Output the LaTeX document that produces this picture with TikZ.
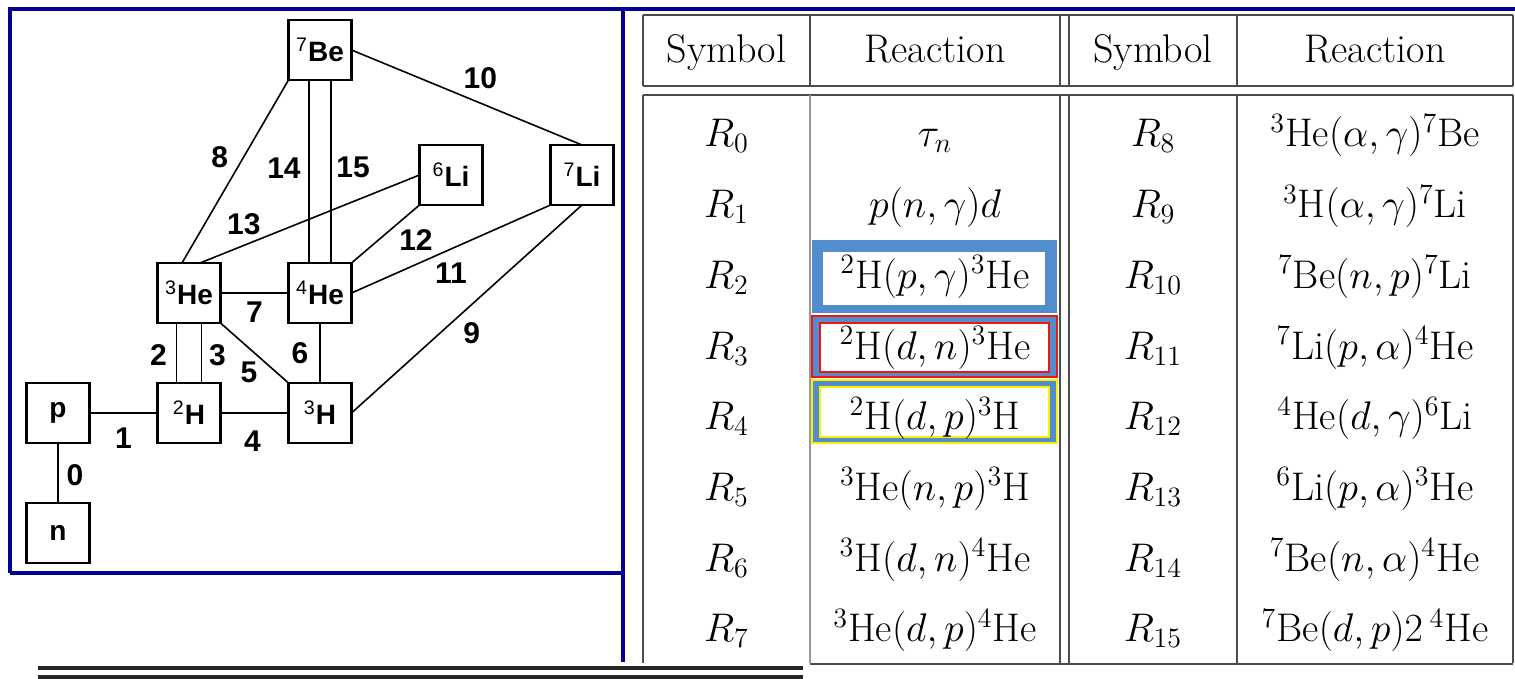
\RequirePackage{fix-cm}
\documentclass[tikz,border=0pt]{standalone}
\usepackage{fontspec}
\newfontfamily\netfont{Liberation Sans}
\usetikzlibrary{positioning}

\definecolor{framenavy}{RGB}{0,0,145}
\definecolor{hlblue}{RGB}{82,142,206}
\definecolor{hlred}{RGB}{240,20,20}
\definecolor{hlyellow}{RGB}{250,240,0}

\begin{document}
\begin{tikzpicture}[x=0.5pt, y=-0.5pt,
    nuc/.style={draw, line width=1.1pt, outer sep=0pt, minimum width=31.5pt, minimum height=30pt, inner sep=0pt, font=\netfont\bfseries\fontsize{14}{16}\selectfont},
    link/.style={line width=0.8pt},
    num/.style={inner sep=1pt, font=\netfont\bfseries\fontsize{15}{17}\selectfont},
    rule/.style={line width=0.9pt, black!70},
    cell/.style={anchor=base, inner sep=0pt, font=\fontsize{20}{24}\selectfont},
    node distance=30pt and 34pt
]
    \useasboundingbox (0,0) rectangle (1515,679);

    % Frames
    \draw[framenavy, line width=2.2pt] (10,573) -- (10,9) -- (1515,9);
    \draw[framenavy, line width=2.2pt] (10,573) -- (623,573);
    \draw[framenavy, line width=2.2pt] (623,9) -- (623,662);
    \draw[black!85, line width=1.6pt] (38,668) -- (803,668) (38,677) -- (803,677);

    % Network
    \node[nuc] (p) at (58,413) {p};
    \node[nuc, below=of p] (n) {n};
    \node[nuc, right=of p] (h2) {\textsuperscript{\mdseries 2}H};
    \node[nuc, right=of h2] (h3) {\textsuperscript{\mdseries 3}H};
    \node[nuc, above=of h2] (he3) {\textsuperscript{\mdseries 3}He};
    \node[nuc, above=of h3] (he4) {\textsuperscript{\mdseries 4}He};
    \node[nuc, above right=29pt and 34pt of he4] (li6) {\textsuperscript{\mdseries 6}Li};
    \node[nuc, right=of li6] (li7) {\textsuperscript{\mdseries 7}Li};
    \node[nuc, above=91.5pt of he4] (be7) {\textsuperscript{\mdseries 7}Be};

    \draw[link] (p) -- node[num, xshift=8.5pt, yshift=-1pt] (l0) {0} (n);
    \draw[link] (p) -- node[num, yshift=-12.5pt] (l1) {1} (h2);
    \draw[link] ([xshift=-6.25pt]he3.south) -- node[num, xshift=-9pt, yshift=-1pt] (l2) {2} ([xshift=-6.25pt]h2.north);
    \draw[link] ([xshift=6.25pt]he3.south) -- node[num, xshift=8pt, yshift=-1pt] (l3) {3} ([xshift=6.25pt]h2.north);
    \draw[link] (h2) -- node[num, xshift=-1pt, yshift=-14pt] (l4) {4} (h3);
    \draw[link] (he3.south east) -- node[num, xshift=-2.75pt, yshift=-9.5pt] (l5) {5} (h3.north west);
    \draw[link] (he4) -- node[num, xshift=-10pt] (l6) {6} (h3);
    \draw[link] (he3) -- node[num, yshift=-9.5pt] (l7) {7} (he4);
    \draw[link] ([xshift=-3.5pt]he3.north) -- node[num, xshift=-7.75pt, yshift=7.25pt] (l8) {8} (be7.south west);
    \draw[link] (h3.east) -- node[num, xshift=2.5pt, yshift=-12pt] (l9) {9} (li7.south);
    \draw[link] (be7.east) -- node[num, xshift=6.75pt, yshift=9.75pt] (l10) {10} (li7.north);
    \draw[link] (he4.east) -- node[num, yshift=-12pt] (l11) {11} (li7.south west);
    \draw[link] (he4.north east) -- node[num, xshift=15.25pt, yshift=-3pt] (l12) {12} (li6.south west);
    \draw[link] ([xshift=5.5pt]he3.north) -- node[num, pos=.2, xshift=0pt, yshift=10.5pt] (l13) {13} (li6.west);
    \draw[link] ([xshift=-5.5pt]be7.south) -- node[num, xshift=-12.5pt, yshift=1.75pt] (l14) {14} ([xshift=-5.5pt]he4.north);
    \draw[link] ([xshift=5.5pt]be7.south) -- node[num, xshift=11pt, yshift=2.25pt] (l15) {15} ([xshift=5.5pt]he4.north);

    % Highlighted reactions
    \fill[hlblue] (812,240) rectangle (1057,313);
    \fill[white] (823,252) rectangle (1045,305);
    \filldraw[fill=hlblue, draw=hlred, line width=1.2pt] (812,316) rectangle (1057,377);
    \filldraw[fill=white, draw=hlred, line width=1.2pt] (820,323) rectangle (1049,372);
    \filldraw[fill=hlblue, draw=hlyellow, line width=1.2pt] (812,380) rectangle (1057,443);
    \filldraw[fill=white, draw=hlyellow, line width=1.2pt] (820,387) rectangle (1049,437);

    % Table rules
    \draw[rule] (643,15) -- (1513,15) (643,86) -- (1513,86) (643,95) -- (1513,95) (810,664) -- (1513,664);
    \draw[rule] (643,15) -- (643,86) (643,95) -- (643,663);
    \draw[rule] (810,15) -- (810,86);
    \draw[rule, black!40] (810,95) -- (810,663);
    \draw[rule] (1060,15) -- (1060,86) (1060,95) -- (1060,663);
    \draw[rule] (1069,15) -- (1069,86) (1069,95) -- (1069,663);
    \draw[rule] (1237,15) -- (1237,86) (1237,95) -- (1237,663);
    \draw[rule] (1513,15) -- (1513,86) (1513,95) -- (1513,663);

    % Header
    \node[cell] (hs1) at (726.5,63) {Symbol};
    \node[cell] (hr1) at (935,63) {Reaction};
    \node[cell] (hs2) at (1153,63) {Symbol};
    \node[cell] (hr2) at (1375,63) {Reaction};

    % Left half
    \node[cell] (s0) at (726.5,147) {$R_0$};
    \node[cell] (r0) at (935,147) {$\tau_n$};
    \node[cell] (s1) at (726.5,217.7) {$R_1$};
    \node[cell] (r1) at (935,217.7) {$p(n,\gamma)d$};
    \node[cell] (s2) at (726.5,288.4) {$R_2$};
    \node[cell] (r2) at (935,288.4) {${}^2\mathrm{H}(p,\gamma){}^3\mathrm{He}$};
    \node[cell] (s3) at (726.5,359.1) {$R_3$};
    \node[cell] (r3) at (935,359.1) {${}^2\mathrm{H}(d,n){}^3\mathrm{He}$};
    \node[cell] (s4) at (726.5,429.8) {$R_4$};
    \node[cell] (r4) at (935,429.8) {${}^2\mathrm{H}(d,p){}^3\mathrm{H}$};
    \node[cell] (s5) at (726.5,500.5) {$R_5$};
    \node[cell] (r5) at (935,500.5) {${}^3\mathrm{He}(n,p){}^3\mathrm{H}$};
    \node[cell] (s6) at (726.5,571.2) {$R_6$};
    \node[cell] (r6) at (935,571.2) {${}^3\mathrm{H}(d,n){}^4\mathrm{He}$};
    \node[cell] (s7) at (726.5,641.9) {$R_7$};
    \node[cell] (r7) at (935,641.9) {${}^3\mathrm{He}(d,p){}^4\mathrm{He}$};

    % Right half
    \node[cell] (s8) at (1153,147) {$R_8$};
    \node[cell] (r8) at (1375,147) {${}^3\mathrm{He}(\alpha,\gamma){}^7\mathrm{Be}$};
    \node[cell] (s9) at (1153,217.7) {$R_9$};
    \node[cell] (r9) at (1375,217.7) {${}^3\mathrm{H}(\alpha,\gamma){}^7\mathrm{Li}$};
    \node[cell] (s10) at (1153,288.4) {$R_{10}$};
    \node[cell] (r10) at (1375,288.4) {${}^7\mathrm{Be}(n,p){}^7\mathrm{Li}$};
    \node[cell] (s11) at (1153,359.1) {$R_{11}$};
    \node[cell] (r11) at (1375,359.1) {${}^7\mathrm{Li}(p,\alpha){}^4\mathrm{He}$};
    \node[cell] (s12) at (1153,429.8) {$R_{12}$};
    \node[cell] (r12) at (1375,429.8) {${}^4\mathrm{He}(d,\gamma){}^6\mathrm{Li}$};
    \node[cell] (s13) at (1153,500.5) {$R_{13}$};
    \node[cell] (r13) at (1375,500.5) {${}^6\mathrm{Li}(p,\alpha){}^3\mathrm{He}$};
    \node[cell] (s14) at (1153,571.2) {$R_{14}$};
    \node[cell] (r14) at (1375,571.2) {${}^7\mathrm{Be}(n,\alpha){}^4\mathrm{He}$};
    \node[cell] (s15) at (1153,641.9) {$R_{15}$};
    \node[cell] (r15) at (1375,641.9) {${}^7\mathrm{Be}(d,p)2\,{}^4\mathrm{He}$};
\end{tikzpicture}
\end{document}
